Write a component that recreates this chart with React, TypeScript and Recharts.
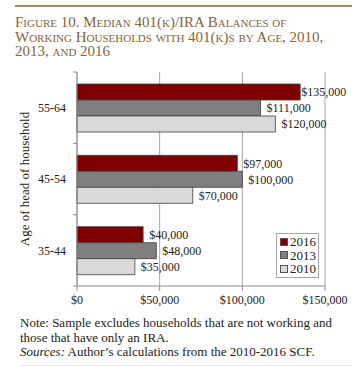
import React from 'react'
import { BarChart, Bar, XAxis, YAxis, CartesianGrid, LabelList, Label } from 'recharts'

const ages = ['55-64', '45-54', '35-44']
const years = ['2016', '2013', '2010']
const balances2016 = [135000, 97000, 40000]
const balances2013 = [111000, 100000, 48000]
const balances2010 = [120000, 70000, 35000]
const xTicks = [0, 50000, 100000, 150000]

const yearColors: Record<string, string> = {
  '2016': '#7f0000',
  '2013': '#7f7f7f',
  '2010': '#d9d9d9',
}

const data = ages.map((age, i) => ({
  age,
  '2016': balances2016[i],
  '2013': balances2013[i],
  '2010': balances2010[i],
}))

const CHART_W = 352
const CHART_H = 250
const MARGIN = { top: 12, right: 27, bottom: 0, left: 0 }
const YAXIS_W = 77
const XAXIS_H = 24
const PLOT_H = CHART_H - MARGIN.top - MARGIN.bottom - XAXIS_H
const BAND = PLOT_H / ages.length

const AXIS_COLOR = '#8c8c8c'
const FONT = '"Liberation Serif", "Times New Roman", serif'

const money = (v: number) => '$' + v.toLocaleString('en-US')

// category label plus the boundary tick marks (Excel style, between groups)
function AgeTick(props: any) {
  const { y, payload, index } = props
  const axisX = MARGIN.left + YAXIS_W
  return (
    <g>
      <text x={axisX - 11} y={y} dy="0.35em" textAnchor="end" fontSize={12} fill="#222" fontFamily={FONT}>
        {payload.value}
      </text>
      <line x1={axisX - 4} x2={axisX} y1={y - BAND / 2} y2={y - BAND / 2} stroke={AXIS_COLOR} />
      {index === ages.length - 1 && (
        <line x1={axisX - 4} x2={axisX} y1={y + BAND / 2} y2={y + BAND / 2} stroke={AXIS_COLOR} />
      )}
    </g>
  )
}

function ValueLabel(props: any) {
  const { x, y, width, height, value } = props
  // the top value is squeezed against the right edge in the original
  const gap = value > 130000 ? 1 : 6
  return (
    <text
      x={x + width + gap}
      y={y + height / 2}
      dy="0.35em"
      fontSize={12}
      fill="#222"
      fontFamily={FONT}
    >
      {money(value)}
    </text>
  )
}

function YearLegend() {
  return (
    <div
      style={{
        position: 'absolute',
        left: 276,
        top: 233,
        border: '1px solid #a6a6a6',
        padding: '1px 2px 1px 3px',
        background: '#fff',
        fontFamily: FONT,
        fontSize: 13,
        lineHeight: '13.5px',
        color: '#222',
      }}
    >
      {years.map((yr) => (
        <div key={yr} style={{ display: 'flex', alignItems: 'center' }}>
          <span
            style={{
              display: 'inline-block',
              width: 6,
              height: 6,
              background: yearColors[yr],
              border: '1px solid #555',
              marginRight: 2,
            }}
          />
          {yr}
        </div>
      ))}
    </div>
  )
}

export default function App() {
  return (
    <div
      style={{
        position: 'absolute',
        left: 0,
        top: 0,
        width: 352,
        height: 367,
        background: '#fff',
        overflow: 'hidden',
      }}
    >
      <div style={{ position: 'absolute', left: 15, right: 0, top: 5, height: 2, background: '#a68b63' }} />
      <div
        style={{
          position: 'absolute',
          left: 15,
          top: 15,
          width: 330,
          fontFamily: FONT,
          fontVariant: 'small-caps',
          fontSize: 15,
          lineHeight: '14.5px',
          color: '#85643c',
        }}
      >
        Figure 10. Median 401(k)/IRA Balances of
        <br />
        Working Households with 401(k)s by Age, 2010,
        <br />
        2013, and 2016
      </div>

      <div style={{ position: 'absolute', left: 0, top: 60 }}>
        <BarChart
          width={CHART_W}
          height={CHART_H}
          data={data}
          layout="vertical"
          margin={MARGIN}
          barGap={0}
          barSize={16}
        >
          <CartesianGrid horizontal={false} stroke="#a6a6a6" />
          <XAxis
            type="number"
            domain={[0, 150000]}
            ticks={xTicks}
            tickFormatter={money}
            height={XAXIS_H}
            tickSize={5}
            tickMargin={4}
            axisLine={{ stroke: AXIS_COLOR }}
            tickLine={{ stroke: AXIS_COLOR }}
            tick={{ fontSize: 12, fill: '#222', fontFamily: FONT }}
          />
          <XAxis
            xAxisId="frame"
            orientation="top"
            type="number"
            domain={[0, 150000]}
            height={0}
            tick={false}
            tickLine={false}
            axisLine={{ stroke: '#a6a6a6' }}
          />
          <YAxis
            type="category"
            dataKey="age"
            width={YAXIS_W}
            axisLine={{ stroke: AXIS_COLOR }}
            tickLine={false}
            tick={<AgeTick />}
          >
            <Label
              value="Age of head of household"
              angle={-90}
              position="center"
              dx={-14}
              style={{ fontSize: 13, fill: '#222', fontFamily: FONT }}
            />
          </YAxis>
          {years.map((yr) => (
            <Bar
              key={yr}
              dataKey={yr}
              name={yr}
              fill={yearColors[yr]}
              stroke="#3f3f3f"
              strokeWidth={0.8}
              isAnimationActive={false}
            >
              <LabelList dataKey={yr} content={<ValueLabel />} />
            </Bar>
          ))}
        </BarChart>
      </div>
      <YearLegend />

      <div
        style={{
          position: 'absolute',
          left: 20,
          top: 316,
          width: 332,
          fontFamily: FONT,
          fontSize: 13,
          lineHeight: '14.5px',
          color: '#222',
          whiteSpace: 'nowrap',
        }}
      >
        Note: Sample excludes households that are not working and
        <br />
        those that have only an IRA.
        <br />
        <i>Sources:</i> Author’s calculations from the 2010-2016 SCF.
      </div>
      <div style={{ position: 'absolute', left: 20, right: 0, top: 365, height: 1, background: '#e4e4e4' }} />
    </div>
  )
}
